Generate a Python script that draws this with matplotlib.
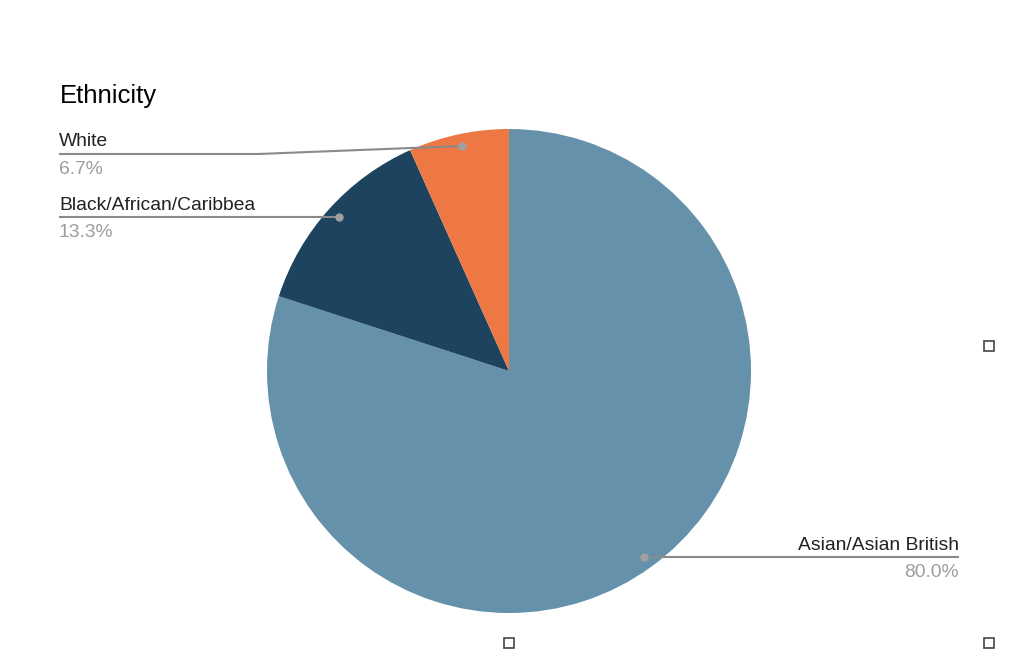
import matplotlib
matplotlib.use("Agg")
import matplotlib.pyplot as plt

title = "Ethnicity"
categories = ["Asian/Asian British", "Black/African/Caribbea", "White"]
values = [80.0, 13.3, 6.7]
pct_labels = ["80.0%", "13.3%", "6.7%"]
colors = ["#6591ab", "#1d435f", "#ee7843"]

W, H = 1024, 651
fig = plt.figure(figsize=(W / 100, H / 100), dpi=100)
ax = fig.add_axes([0, 0, 1, 1])
ax.set_xlim(0, W)
ax.set_ylim(0, H)
ax.set_aspect("equal")
ax.axis("off")

def Y(py):
    return H - py

cx, cy, r = 509, Y(371), 242
ax.pie(values, colors=colors, startangle=90, counterclock=False,
       center=(cx, cy), radius=r, frame=True,
       wedgeprops=dict(linewidth=0))
ax.set_xlim(0, W)
ax.set_ylim(0, H)
ax.axis("off")

font = "Liberation Sans"
line_c = "#8a8a8a"
dot_c = "#a0a0a0"
fs = 13.9

ax.text(60, Y(96), title, fontsize=18.5, family=font, color="#000000",
        ha="left", va="center")

# White leader
ax.plot([462, 258, 59], [Y(146), Y(154), Y(154)], color=line_c, lw=1.5,
        solid_capstyle="butt")
ax.plot([462], [Y(146)], "o", color=dot_c, ms=5)
ax.text(59, Y(142), categories[2], fontsize=fs, family=font, color="#222222",
        ha="left", va="center")
ax.text(59, Y(169.5), pct_labels[2], fontsize=fs, family=font, color="#9e9e9e",
        ha="left", va="center")

# Black leader
ax.plot([339, 59], [Y(217), Y(217)], color=line_c, lw=1.5, solid_capstyle="butt")
ax.plot([339], [Y(217)], "o", color=dot_c, ms=5)
ax.text(59, Y(205.5), categories[1], fontsize=fs, family=font, color="#222222",
        ha="left", va="center")
ax.text(59, Y(232.5), pct_labels[1], fontsize=fs, family=font, color="#9e9e9e",
        ha="left", va="center")

# Asian leader
ax.plot([644, 959], [Y(557), Y(557)], color=line_c, lw=1.5, solid_capstyle="butt")
ax.plot([644], [Y(557)], "o", color=dot_c, ms=5)
ax.text(959, Y(545.5), categories[0], fontsize=fs, family=font, color="#222222",
        ha="right", va="center")
ax.text(959, Y(572.5), pct_labels[0], fontsize=fs, family=font, color="#9e9e9e",
        ha="right", va="center")

# editor handles
for hx, hy in [(989, 346), (509, 643), (989, 643)]:
    ax.plot([hx], [Y(hy)], "s", ms=7, mfc="white", mec="#444444", mew=1.2)

fig.savefig("out.png", dpi=100)
